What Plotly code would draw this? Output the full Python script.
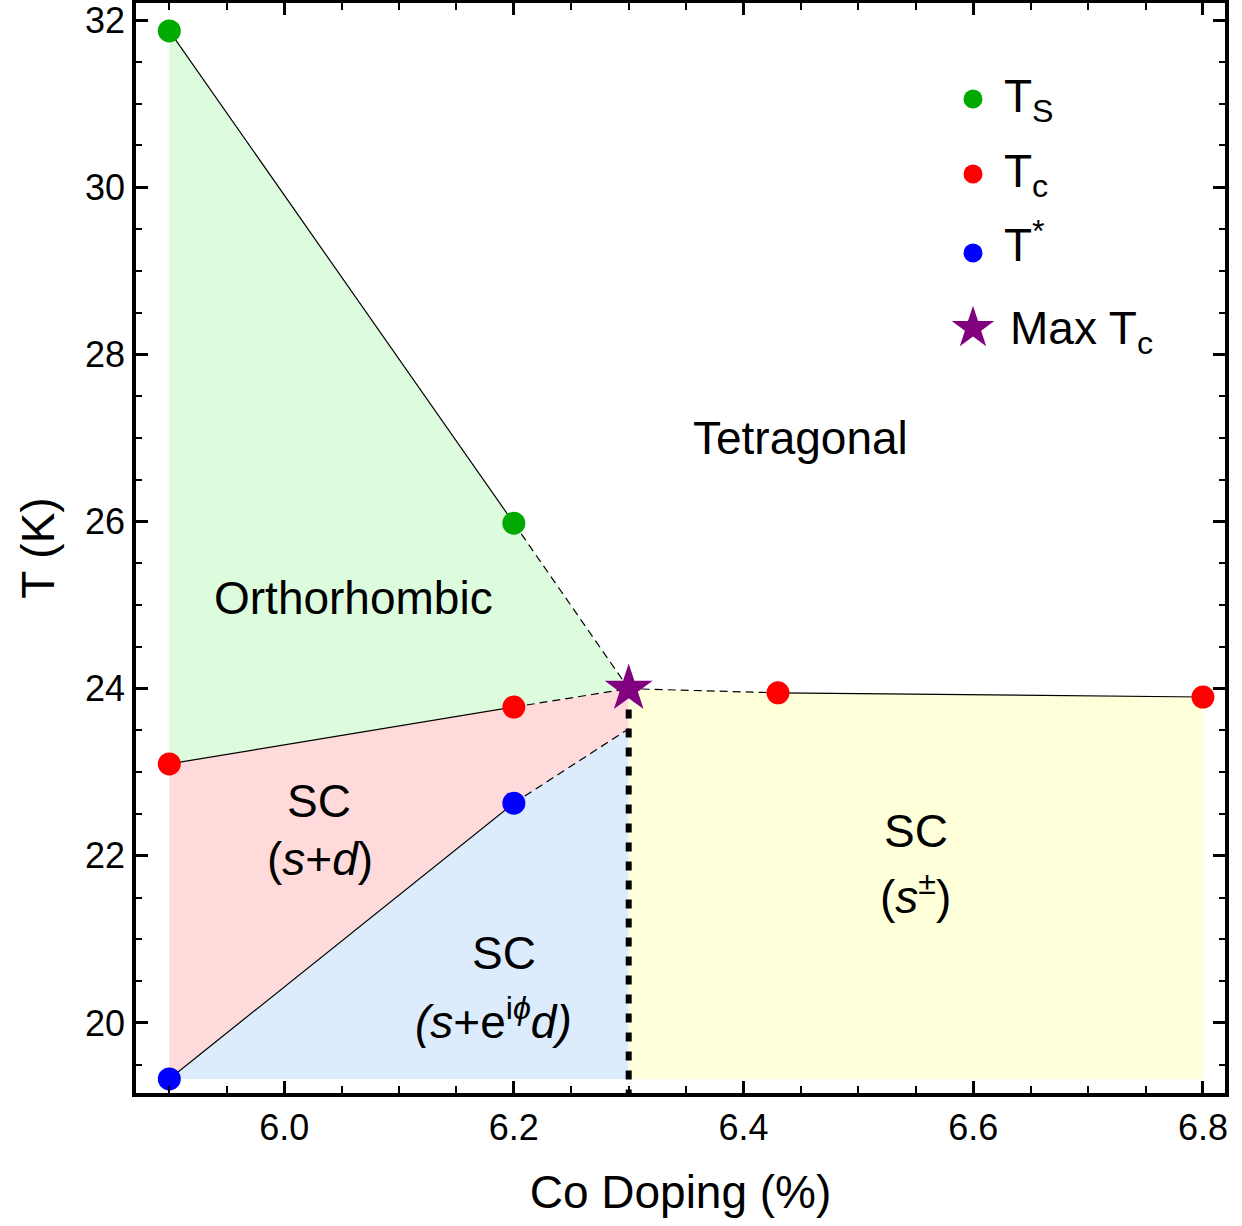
import plotly.graph_objects as go

# ---- data ----
ts_x = [5.9, 6.2]
ts_y = [31.87, 25.98]
tc_x = [5.9, 6.2, 6.43, 6.8]
tc_y = [23.10, 23.78, 23.95, 23.90]
tstar_x = [5.9, 6.2]
tstar_y = [19.33, 22.63]
max_x = [6.3]
max_y = [24.0]
tstar_end_y = 23.52   # end of dashed T* extrapolation at max Tc doping
dotted_top_y = 23.75  # top of the thick dotted separator

FONT = "Liberation Sans, Arial, sans-serif"
XR = [5.871, 6.8192]
YR = [19.162, 32.204]

fig = go.Figure()

xm, ym = max_x[0], max_y[0]
bottom = tstar_y[0]

def poly(xs, ys, color):
    fig.add_trace(go.Scatter(x=xs + [xs[0]], y=ys + [ys[0]], fill="toself", fillcolor=color,
                             mode="lines", line=dict(width=0), hoverinfo="skip", showlegend=False))

# regions
poly([ts_x[0], ts_x[1], xm, tc_x[1], tc_x[0]], [ts_y[0], ts_y[1], ym, tc_y[1], tc_y[0]], "#DDFBDD")
poly([tc_x[0], tc_x[1], xm, xm, tstar_x[1], tstar_x[0]],
     [tc_y[0], tc_y[1], ym, tstar_end_y, tstar_y[1], tstar_y[0]], "#FFDADA")
poly([tstar_x[0], tstar_x[1], xm, xm], [tstar_y[0], tstar_y[1], tstar_end_y, bottom], "#DCECFD")
poly([xm, tc_x[2], tc_x[3], tc_x[3], xm], [ym, tc_y[2], tc_y[3], bottom, bottom], "#FFFFDA")

def seg(xs, ys, dash=None, width=1.2):
    fig.add_trace(go.Scatter(x=xs, y=ys, mode="lines",
                             line=dict(color="black", width=width, dash=dash),
                             hoverinfo="skip", showlegend=False))

# lines
seg(ts_x, ts_y)
seg([ts_x[1], xm], [ts_y[1], ym], "8px,5px")
seg(tc_x[:2], tc_y[:2])
seg([tc_x[1], xm], [tc_y[1], ym], "8px,5px")
seg(tstar_x, tstar_y)
seg([tstar_x[1], xm], [tstar_y[1], tstar_end_y], "8px,5px")
seg([xm, tc_x[2]], [ym, tc_y[2]], "8px,5px")
seg(tc_x[2:], tc_y[2:])
seg([xm, xm], [dotted_top_y, YR[0]], "9px,10px", width=6)

# markers
fig.add_trace(go.Scatter(x=ts_x, y=ts_y, mode="markers", marker=dict(color="#00AA00", size=23), showlegend=False))
fig.add_trace(go.Scatter(x=tc_x, y=tc_y, mode="markers", marker=dict(color="#FF0000", size=23), showlegend=False))
fig.add_trace(go.Scatter(x=tstar_x, y=tstar_y, mode="markers", marker=dict(color="#0000FF", size=23), showlegend=False))
fig.add_trace(go.Scatter(x=max_x, y=max_y, mode="markers",
                         marker=dict(color="#800080", size=36, symbol="star"), showlegend=False))

# ---- manual legend on overlay paper-like axes ----
leg_names = ["T<sub>S</sub>", "T<sub>c</sub>", "T<sup>*</sup>", "Max T<sub>c</sub>"]
leg_colors = ["#00AA00", "#FF0000", "#0000FF", "#800080"]
leg_symbols = ["circle", "circle", "circle", "star"]
leg_sizes = [19, 19, 19, 32]
leg_my = [0.9119, 0.8431, 0.7706, 0.7018]
leg_ty = [0.9119, 0.8431, 0.7807, 0.6986]
leg_mx = 0.7686
leg_tx = [0.795, 0.795, 0.795, 0.801]
for c, s, sz, yy in zip(leg_colors, leg_symbols, leg_sizes, leg_my):
    fig.add_trace(go.Scatter(x=[leg_mx], y=[yy], xaxis="x2", yaxis="y2", mode="markers",
                             marker=dict(color=c, symbol=s, size=sz), showlegend=False, hoverinfo="skip"))
annotations = []
for n, yy, tx in zip(leg_names, leg_ty, leg_tx):
    annotations.append(dict(text=n, x=tx, y=yy, xref="paper", yref="paper", xanchor="left",
                            yanchor="middle", showarrow=False, font=dict(size=46, color="black", family=FONT)))

# region labels
labels = [
    ("Tetragonal", 6.45, 27.0),
    ("Orthorhombic", 6.06, 25.09),
    ("SC", 6.03, 22.66),
    ("(<i>s</i>+<i>d</i>)", 6.0315, 21.96),
    ("SC", 6.191, 20.84),
    ("<i>(s</i>+e<sup>i<i>ϕ</i></sup><i>d)</i>", 6.182, 20.05),
    ("SC", 6.55, 22.30),
    ("(<i>s</i><sup>±</sup>)", 6.55, 21.545),
]
for t, x, y in labels:
    annotations.append(dict(text=t, x=x, y=y, xref="x", yref="y", showarrow=False,
                            font=dict(size=46, color="black", family=FONT)))

axis_common = dict(showline=True, linewidth=3.5, linecolor="black", mirror="allticks",
                   ticks="inside", ticklen=12, tickwidth=2.5, tickcolor="black",
                   showgrid=False, zeroline=False, automargin=False, ticklabeloverflow="allow",
                   tickfont=dict(size=36, color="black", family=FONT))

fig.update_layout(
    width=1242, height=1226,
    margin=dict(l=136, r=17, t=3, b=133),
    paper_bgcolor="white", plot_bgcolor="white",
    showlegend=False,
    xaxis=dict(range=XR, tickvals=[6.0, 6.2, 6.4, 6.6, 6.8], ticktext=["6.0", "6.2", "6.4", "6.6", "6.8"],
               minor=dict(tickvals=[5.9 + 0.05 * i for i in range(19)], ticks="inside", ticklen=7,
                          tickwidth=2, tickcolor="black"),
               title=dict(text="Co Doping (%)", font=dict(size=46, color="black", family=FONT), standoff=30),
               **axis_common),
    yaxis=dict(range=YR, tickvals=[20, 22, 24, 26, 28, 30, 32],
               minor=dict(dtick=0.5, tick0=20, ticks="inside", ticklen=6, tickwidth=2, tickcolor="black"),
               title=dict(text="T (K)", font=dict(size=46, color="black", family=FONT), standoff=17),
               **axis_common),
    xaxis2=dict(range=[0, 1], domain=[0, 1], overlaying="x", visible=False, fixedrange=True),
    yaxis2=dict(range=[0, 1], domain=[0, 1], overlaying="y", visible=False, fixedrange=True),
    annotations=annotations,
)

fig.write_html("out.html", config={"displayModeBar": False},
               post_script="document.body.style.margin='0';")
